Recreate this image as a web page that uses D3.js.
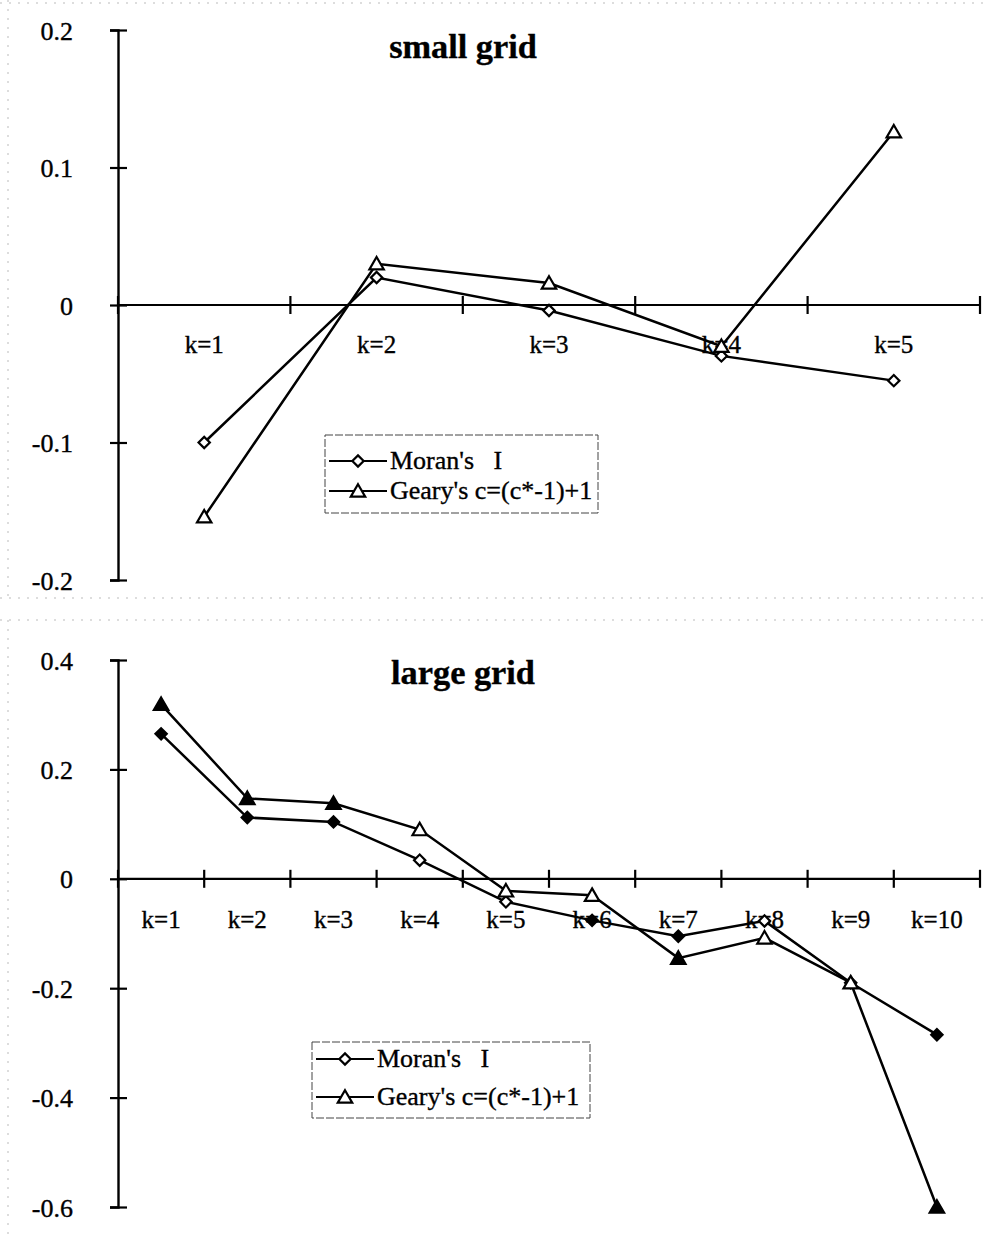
<!DOCTYPE html>
<html>
<head>
<meta charset="utf-8">
<script src="https://cdn.jsdelivr.net/npm/d3@7"></script>
<style>
  html, body { margin: 0; padding: 0; background: #fff; }
  svg { display: block; }
  text { font-family: "Liberation Serif", "Times New Roman", serif; fill: #000; stroke: #000; stroke-width: 0.35px; }
</style>
</head>
<body>
<svg id="chart" width="984" height="1239"></svg>
<script>
// ---------------- data ----------------
const categoriesSmall = ["k=1", "k=2", "k=3", "k=4", "k=5"];
const moranSmall = [-0.100, 0.020, -0.004, -0.037, -0.055];
const gearySmall = [-0.154, 0.030, 0.016, -0.030, 0.126];
const ticksSmall = [-0.2, -0.1, 0, 0.1, 0.2];
const tickLabelsSmall = ["-0.2", "-0.1", "0", "0.1", "0.2"];

const categoriesLarge = ["k=1", "k=2", "k=3", "k=4", "k=5", "k=6", "k=7", "k=8", "k=9", "k=10"];
const moranLarge = [0.265, 0.112, 0.104, 0.034, -0.042, -0.076, -0.105, -0.077, -0.190, -0.285];
const gearyLarge = [0.319, 0.147, 0.138, 0.090, -0.022, -0.030, -0.145, -0.108, -0.190, -0.600];
// markers printed solid in the scanned original
const moranLargeSolid = [1, 1, 1, 0, 0, 1, 1, 0, 0, 1];
const gearyLargeSolid = [1, 1, 1, 0, 0, 0, 1, 0, 0, 1];
const ticksLarge = [-0.6, -0.4, -0.2, 0, 0.2, 0.4];
const tickLabelsLarge = ["-0.6", "-0.4", "-0.2", "0", "0.2", "0.4"];

const seriesNames = ["Moran's\u00a0\u00a0\u00a0I", "Geary's c=(c*-1)+1"];
const titles = ["small grid", "large grid"];

// ---------------- drawing ----------------
const svg = d3.select("#chart");

// faint scan borders
const border = svg.append("g").attr("stroke", "#bbb").attr("stroke-width", 1)
  .attr("stroke-dasharray", "2,7").attr("fill", "none");
border.append("line").attr("x1", 0).attr("x2", 984).attr("y1", 3).attr("y2", 3);
border.append("line").attr("x1", 8).attr("x2", 8).attr("y1", 0).attr("y2", 598);
border.append("line").attr("x1", 0).attr("x2", 984).attr("y1", 598).attr("y2", 598);
border.append("line").attr("x1", 0).attr("x2", 984).attr("y1", 620).attr("y2", 620);
border.append("line").attr("x1", 8).attr("x2", 8).attr("y1", 620).attr("y2", 1239);

const diamond = d3.symbol().type(d3.symbolSquare).size(64);
const triangle = d3.symbol().type(d3.symbolTriangle).size(90);

function stretchedText(g, x, y, str, size, sx, anchor, weight) {
  return g.append("text")
    .attr("transform", `translate(${x},${y}) scale(${sx},1)`)
    .attr("text-anchor", anchor || "start")
    .attr("font-size", size)
    .attr("font-weight", weight || "normal")
    .text(str);
}

function markerTransform(sym, px, py) {
  return sym === diamond ? `translate(${px},${py}) rotate(45)` : `translate(${px},${py + 1.5})`;
}

function drawPanel(cfg) {
  const g = svg.append("g");
  const x = d3.scaleBand().domain(cfg.categories).range([118, 980]).padding(0);
  const y = d3.scaleLinear().domain(cfg.domain).range(cfg.yRange);
  const cx = c => x(c) + x.bandwidth() / 2;

  // y axis
  const yAxis = d3.axisLeft(y).tickValues(cfg.ticks)
    .tickFormat((d, i) => cfg.tickLabels[i]).tickSizeOuter(0).tickSize(8);
  const ya = g.append("g").attr("transform", "translate(118,0)").call(yAxis);
  ya.select(".domain").attr("stroke", "#000").attr("stroke-width", 2.4);
  ya.selectAll(".tick line").attr("x1", -8).attr("x2", 9).attr("stroke", "#000").attr("stroke-width", 2.2);
  ya.selectAll(".tick text")
    .attr("x", -45).attr("dy", "0.35em")
    .attr("font-family", "Liberation Serif, serif").attr("font-size", 26).attr("fill", "#000");

  // x axis at zero
  const y0 = y(0);
  const xa = g.append("g");
  xa.append("line").attr("x1", 118).attr("x2", 980).attr("y1", y0).attr("y2", y0)
    .attr("stroke", "#000").attr("stroke-width", 2.2);
  const bounds = cfg.categories.map(c => x(c)).concat([x.range()[1]]);
  xa.selectAll("line.xt").data(bounds).join("line").attr("class", "xt")
    .attr("x1", d => d).attr("x2", d => d).attr("y1", y0 - 9).attr("y2", y0 + 9)
    .attr("stroke", "#000").attr("stroke-width", 2.2);
  cfg.categories.forEach(c => {
    stretchedText(xa, cx(c), y0 + cfg.labelDy, c, 25, 1.0, "middle");
  });

  // title
  stretchedText(g, 463, cfg.titleY, cfg.title, 33, 1.04, "middle", "bold");

  // series
  const line = d3.line().x(d => cx(d.c)).y(d => y(d.v));
  cfg.series.forEach(s => {
    const pts = cfg.categories.map((c, i) => ({ c, v: s.values[i], solid: s.solid ? s.solid[i] : 0 }));
    g.append("path").datum(pts).attr("d", line)
      .attr("fill", "none").attr("stroke", "#000").attr("stroke-width", 2.5);
    g.selectAll(null).data(pts).join("path")
      .attr("d", s.symbol)
      .attr("transform", d => markerTransform(s.symbol, cx(d.c), y(d.v)))
      .attr("fill", d => d.solid ? "#000" : "#fff")
      .attr("stroke", "#000").attr("stroke-width", 2.2);
  });

  // legend
  const L = cfg.legend;
  const lg = g.append("g");
  lg.append("rect").attr("x", L.x).attr("y", L.y).attr("width", L.w).attr("height", L.h)
    .attr("fill", "#fff").attr("stroke", "#444").attr("stroke-width", 1)
    .attr("stroke-dasharray", "8,2");
  cfg.series.forEach((s, i) => {
    const ly = L.y + L.rowY[i];
    lg.append("line").attr("x1", L.x + 4).attr("x2", L.x + 62).attr("y1", ly).attr("y2", ly)
      .attr("stroke", "#000").attr("stroke-width", 2.2);
    lg.append("path").attr("d", s.symbol).attr("transform", markerTransform(s.symbol, L.x + 33, ly))
      .attr("fill", "#fff").attr("stroke", "#000").attr("stroke-width", 2.2);
    stretchedText(lg, L.x + 65, ly + 8, seriesNames[i], 26, 1.0, "start");
  });
}

drawPanel({
  categories: categoriesSmall,
  domain: [-0.2, 0.2], yRange: [580, 30],
  ticks: ticksSmall, tickLabels: tickLabelsSmall,
  title: titles[0], titleY: 58, labelDy: 48,
  series: [
    { values: moranSmall, symbol: diamond },
    { values: gearySmall, symbol: triangle }
  ],
  legend: { x: 325, y: 435, w: 273, h: 78, rowY: [26, 56] }
});

drawPanel({
  categories: categoriesLarge,
  domain: [-0.6, 0.4], yRange: [1207, 660],
  ticks: ticksLarge, tickLabels: tickLabelsLarge,
  title: titles[1], titleY: 684, labelDy: 49,
  series: [
    { values: moranLarge, symbol: diamond, solid: moranLargeSolid },
    { values: gearyLarge, symbol: triangle, solid: gearyLargeSolid }
  ],
  legend: { x: 312, y: 1042, w: 278, h: 76, rowY: [17, 55] }
});
</script>
</body>
</html>
